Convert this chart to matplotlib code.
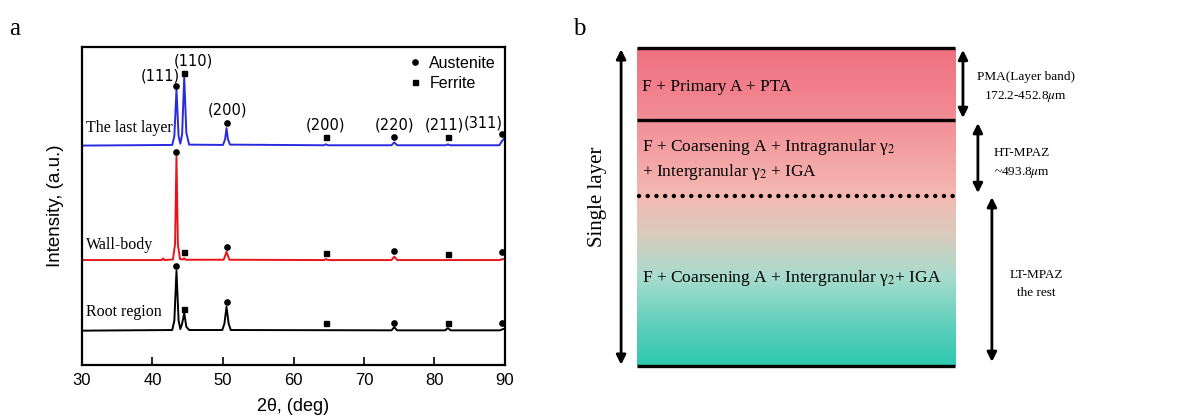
import numpy as np
import matplotlib
matplotlib.use("Agg")
import matplotlib.pyplot as plt
from matplotlib.colors import LinearSegmentedColormap
from matplotlib.lines import Line2D

plt.rcParams['font.family'] = ['Liberation Sans', 'DejaVu Sans']
plt.rcParams['mathtext.fontset'] = 'stix'

# ---- panel a: XRD traces (arbitrary intensity, traces offset) ----
last_x = [30, 42.8, 43.1, 43.4, 43.7, 43.95, 44.2, 44.5, 44.8, 45.2, 50.0, 50.3, 50.5, 50.7, 51.0,
          64.3, 64.6, 64.9, 73.9, 74.3, 74.7, 81.6, 81.9, 82.2, 89.2, 89.6, 90]
last_y = [69.0, 69.2, 72.0, 86.5, 72.0, 69.6, 72.5, 90.6, 73.0, 69.3, 69.2, 71.0, 74.5, 71.0, 69.3,
          69.1, 69.4, 69.1, 69.1, 70.0, 69.1, 69.1, 69.4, 69.1, 69.1, 70.5, 71.5]

wall_x = [30, 41.3, 41.5, 41.7, 42.9, 43.2, 43.4, 43.6, 43.9, 44.3, 44.5, 44.7, 50.1, 50.5, 50.9,
          64.3, 64.6, 64.9, 73.9, 74.3, 74.7, 89.3, 89.6, 90]
wall_y = [33.0, 33.0, 33.5, 33.0, 33.2, 38.0, 65.5, 38.0, 33.3, 33.2, 33.6, 33.1, 33.1, 35.6, 33.1,
          33.0, 33.3, 33.0, 33.0, 34.1, 33.0, 33.0, 33.3, 33.2]

root_x = [30, 42.8, 43.1, 43.4, 43.7, 43.95, 44.2, 44.5, 44.8, 45.2, 49.9, 50.2, 50.5, 50.8, 51.1,
          73.9, 74.3, 74.7, 81.5, 81.9, 82.3, 89.3, 89.6, 90]
root_y = [10.8, 11.0, 14.0, 29.6, 14.0, 11.3, 13.0, 16.3, 12.0, 11.0, 11.0, 13.0, 18.3, 13.0, 11.0,
          10.9, 11.9, 10.9, 10.9, 11.6, 10.9, 10.9, 11.2, 11.5]

# phase marker positions
aus_x = [43.4, 50.5, 74.3, 89.6]
fer_x = [44.5, 64.6, 81.9]
last_aus = [87.7, 76.0, 71.8, 72.6]
last_fer = [91.7, 71.6, 71.6]
wall_aus = [66.9, 37.2, 35.9, 35.4]
wall_fer = [35.4, 35.3, 34.9]
root_aus = [31.2, 19.9, 13.3, 13.3]
root_fer = [17.6, 13.1, 13.3]

hkl_labels = ['(111)', '(110)', '(200)', '(200)', '(220)', '(211)', '(311)']
hkl_x = [41.1, 45.8, 50.6, 64.6, 74.3, 81.4, 86.9]
hkl_y = [90.9, 95.6, 80.2, 75.5, 75.5, 75.5, 76.1]

trace_names = ['The last layer', 'Wall-body', 'Root region']
trace_label_y = [74.5, 37.7, 16.7]

# ---- panel b: zone schematic (fraction of layer height, bottom = 0) ----
zone_lines = [1.0, 0.773, 0.0]
dotted_line = 0.534
grad_colors = ['#2ec8b0', '#5ccfbb', '#a8dccd', '#dccbbc', '#f3bab2', '#f4a3a5', '#f28a93', '#f07080']
grad_stops = [0.0, 0.12, 0.28, 0.42, 0.53, 0.66, 0.80, 1.0]

fig = plt.figure(figsize=(11.89, 4.18), dpi=100)

ax = fig.add_axes([82 / 1189, 53 / 418, 423 / 1189, 318 / 418])
ax.plot(last_x, last_y, color='#2a2ae0', lw=1.4)
ax.plot(wall_x, wall_y, color='#e8141c', lw=1.4)
ax.plot(root_x, root_y, color='black', lw=1.4)
for ya, yf in [(last_aus, last_fer), (wall_aus, wall_fer), (root_aus, root_fer)]:
    ax.plot(aus_x, ya, 'o', color='black', ms=3.8, ls='none', clip_on=False)
    ax.plot(fer_x, yf, 's', color='black', ms=3.6, ls='none', clip_on=False)
for lab, x, y in zip(hkl_labels, hkl_x, hkl_y):
    ax.text(x, y, lab, ha='center', va='center', fontsize=10.5, family='DejaVu Sans')
for lab, y in zip(trace_names, trace_label_y):
    ax.text(30.6, y, lab, ha='left', va='center', fontsize=11.5, family='Liberation Serif')

handles = [Line2D([], [], marker='o', color='black', ls='none', ms=3.8),
           Line2D([], [], marker='s', color='black', ls='none', ms=3.6)]
ax.legend(handles, ['Austenite', 'Ferrite'], loc='upper right', frameon=False, fontsize=11.5,
          handletextpad=0.3, borderaxespad=0.15, labelspacing=0.3, handlelength=1.2)

ax.set_xlim(30, 90)
ax.set_ylim(0, 100)
ax.set_xticks(np.arange(30, 91, 10))
ax.set_yticks([])
ax.tick_params(axis='x', direction='in', length=6, width=1.2, labelsize=12, pad=6)
for s in ax.spines.values():
    s.set_linewidth(1.6)
ax.set_xlabel('2θ, (deg)', fontsize=13, labelpad=7)
ax.set_ylabel('Intensity, (a.u.)', fontsize=13.5, labelpad=13)

fig.text(0.008, 0.93, 'a', fontsize=18, family='Liberation Serif', va='center')
fig.text(573 / 1189, 0.93, 'b', fontsize=18, family='Liberation Serif', va='center')

# panel b
bx = fig.add_axes([637 / 1189, 52.3 / 418, 318 / 1189, 318 / 418])
cmap = LinearSegmentedColormap.from_list('zone', list(zip(grad_stops, grad_colors)))
grad = np.linspace(0, 1, 256).reshape(-1, 1)
bx.imshow(grad, cmap=cmap, origin='lower', extent=[0, 1, 0, 1], aspect='auto')
for y in zone_lines:
    bx.plot([0, 1], [y, y], color='black', lw=2.4, solid_capstyle='butt', clip_on=False)
bx.plot([0.005, 0.995], [dotted_line, dotted_line], color='black', lw=3.2,
        ls=(0, (0.01, 1.95)), dash_capstyle='round', clip_on=False)
bx.set_xlim(0, 1)
bx.set_ylim(0, 1)
bx.axis('off')

serif = 'Liberation Serif'
bx.text(0.016, 0.876, 'F + Primary A + PTA', fontsize=12.5, family=serif, va='center')
bx.text(0.016, 0.688, 'F + Coarsening A + Intragranular γ$_2$', fontsize=12.5, family=serif, va='center')
bx.text(0.016, 0.609, '+ Intergranular γ$_2$ + IGA', fontsize=12.5, family=serif, va='center')
bx.text(0.016, 0.276, 'F + Coarsening A + Intergranular γ$_2$+ IGA', fontsize=12.5, family=serif, va='center')

arrow_kw = dict(arrowstyle='<|-|>', color='black', lw=2.0, mutation_scale=14, shrinkA=0, shrinkB=0)
for x, y0, y1 in [(-0.05, 0.003, 0.995), (1.025, 0.779, 0.993), (1.072, 0.543, 0.763), (1.116, 0.012, 0.530)]:
    bx.annotate('', xy=(x, y1), xytext=(x, y0), xycoords='axes fraction',
                arrowprops=arrow_kw, annotation_clip=False)

bx.text(-0.123, 0.53, 'Single layer', rotation=90, fontsize=15, family=serif, ha='center', va='center')
bx.text(1.223, 0.908, 'PMA(Layer band)', fontsize=9.5, family=serif, ha='center', va='center')
bx.text(1.223, 0.845, '172.2-452.8$\\mu$m', fontsize=9.5, family=serif, ha='center', va='center')
bx.text(1.211, 0.669, 'HT-MPAZ', fontsize=9.5, family=serif, ha='center', va='center')
bx.text(1.211, 0.606, '~493.8$\\mu$m', fontsize=9.5, family=serif, ha='center', va='center')
bx.text(1.255, 0.285, 'LT-MPAZ', fontsize=9.5, family=serif, ha='center', va='center')
bx.text(1.255, 0.229, 'the rest', fontsize=9.5, family=serif, ha='center', va='center')

fig.savefig('out.png', dpi=100)
